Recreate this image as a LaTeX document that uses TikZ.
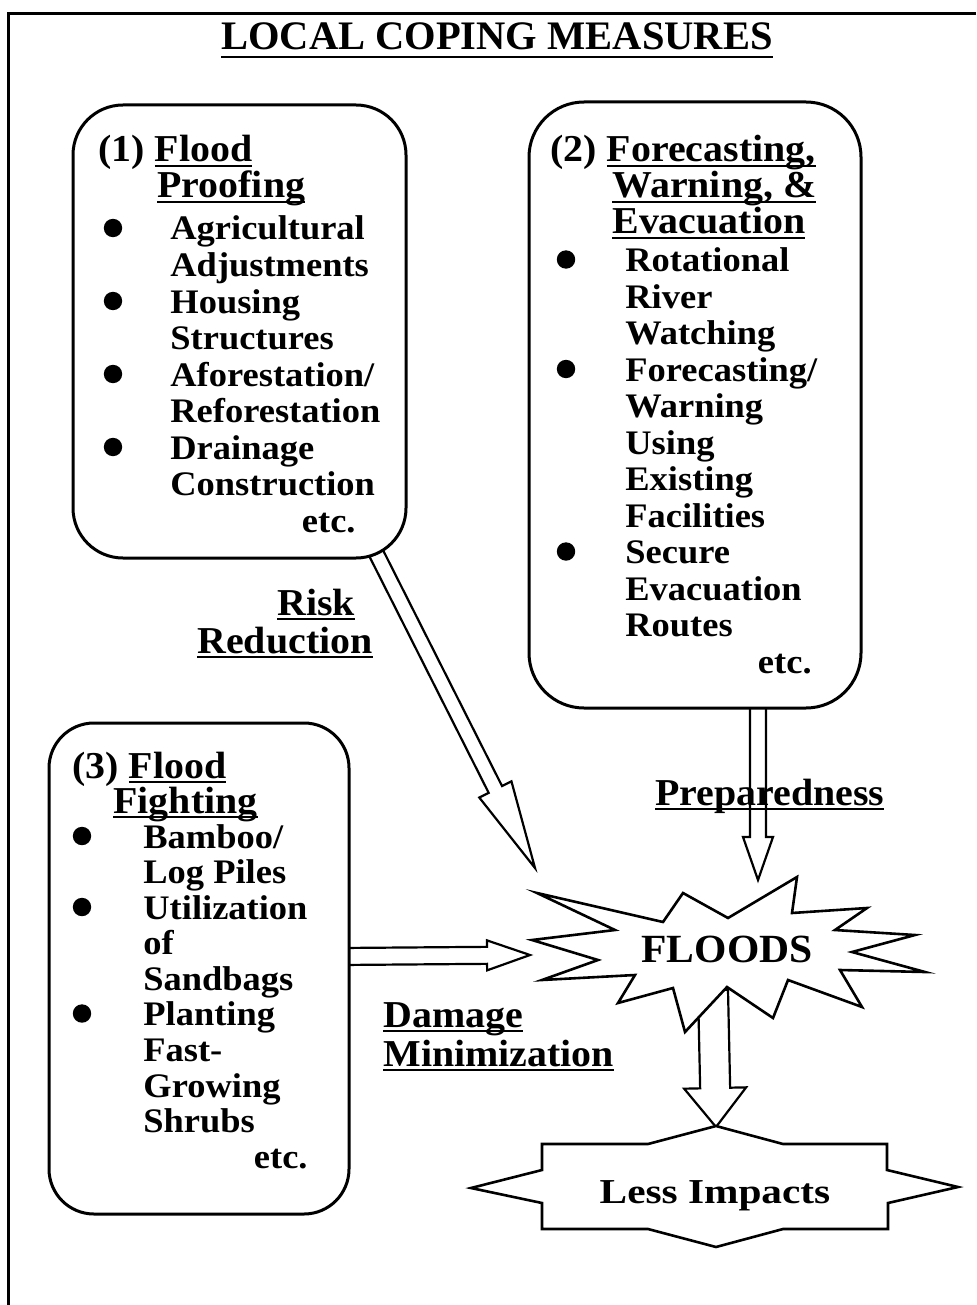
\documentclass[tikz,border=0pt]{standalone}
\usepackage{fontspec}
\setmainfont{Liberation Serif}
\newfontfamily\bodyfam{Liberation Serif}[FakeStretch=1.06]
\newfontfamily\headfam{Liberation Serif}[FakeStretch=1.05]
\newfontfamily\lessfam{Liberation Serif}[FakeStretch=1.18]
\newfontfamily\starfam{Liberation Serif}[FakeStretch=1.04]
\usetikzlibrary{calc}
\pgfdeclarelayer{back}
\pgfsetlayers{back,main}

% underlined word with a rule of fixed weight
\newcommand\undl[2][2.6pt]{\setbox0=\hbox{#2}\rlap{\rule[-#1]{\wd0}{1pt}}\box0}

\newcommand\bodyfont{\bodyfam\bfseries\fontsize{17.2pt}{18pt}\selectfont}
\newcommand\headfont{\headfam\bfseries\fontsize{19pt}{20pt}\selectfont}
\newcommand\titlefont{\bfseries\fontsize{20.25pt}{24pt}\selectfont}
\newcommand\floodfont{\starfam\bfseries\fontsize{20pt}{24pt}\selectfont}
\newcommand\lessfont{\lessfam\bfseries\fontsize{17.5pt}{20pt}\selectfont}

\begin{document}
\begin{tikzpicture}[x=0.5pt,y=-0.5pt,
  panel/.style={draw, line width=1.5pt, fill=white, inner sep=0, outer sep=0},
  txt/.style={anchor=base west, inner sep=0, font=\bodyfont},
  tail/.style={anchor=base east, inner sep=0, font=\bodyfont},
  head/.style={anchor=base west, inner sep=0, font=\headfont},
  dot/.style={fill=black},
  frame/.style={line width=1.5pt},
  outline/.style={draw, line width=1.3pt, fill=white, line join=miter},
  hollow/.style={draw, line width=1.1pt, fill=white, line join=miter},
  % hollow block arrow: shaft half width, head half width, head length
  blockarrow/.style n args={3}{to path={
    ($(\tikztostart)!#1!90:(\tikztotarget)$)
    -- ($(\tikztotarget)!#3!(\tikztostart)!#1!-90:(\tikztostart)$)
    -- ($(\tikztotarget)!#3!(\tikztostart)!#2!-90:(\tikztostart)$)
    -- (\tikztotarget)
    -- ($(\tikztotarget)!#3!(\tikztostart)!#2!90:(\tikztostart)$)
    -- ($(\tikztotarget)!#3!(\tikztostart)!#1!90:(\tikztostart)$)
    -- ($(\tikztostart)!#1!-90:(\tikztotarget)$)
    -- cycle}}
]
\useasboundingbox (0,0) rectangle (976,1305);

% page frame
\draw[frame] (976,14) -- (8,14) -- (8,1305);

% title
\node[anchor=base, inner sep=0, font=\titlefont] (title) at (497,50)
  {\undl[4pt]{LOCAL COPING MEASURES}};

% the three measure panels
\node[panel, minimum width=166.5pt, minimum height=226.5pt, rounded corners=25pt] (box1) at (239.5,331.5) {};
\node[panel, minimum width=166pt, minimum height=303pt, rounded corners=27.5pt] (box2) at (695,405) {};
\node[panel, minimum width=150pt, minimum height=245.5pt, rounded corners=22.5pt] (box3) at (199,968.5) {};

% panel 1
\node[head] (h1a) at (98,162) {(1) \undl{Flood}};
\node[head] (h1b) at (157,198) {\undl{Proofing}};
\node[txt] (p1a) at (170,240)   {Agricultural};
\node[txt] (p1b) at (170,276.5) {Adjustments};
\node[txt] (p1c) at (170,313)   {Housing};
\node[txt] (p1d) at (170,349.5) {Structures};
\node[txt] (p1e) at (170,386)   {Aforestation/};
\node[txt] (p1f) at (170,422.5) {Reforestation};
\node[txt] (p1g) at (170,459)   {Drainage};
\node[txt] (p1h) at (170,495.5) {Construction};
\node[tail] (p1i) at (356,532)  {etc.};
\foreach \yy in {228,301,374,447} \fill[dot] (113,\yy) circle (4.6pt);

% panel 2
\node[head] (h2a) at (550,162) {(2) \undl{Forecasting,}};
\node[head] (h2b) at (612,198) {\undl{Warning, \&}};
\node[head] (h2c) at (612,234) {\undl{Evacuation}};
\node[txt] (p2a) at (625,271.5) {Rotational};
\node[txt] (p2b) at (625,308)   {River};
\node[txt] (p2c) at (625,344.5) {Watching};
\node[txt] (p2d) at (625,381)   {Forecasting/};
\node[txt] (p2e) at (625,417.5) {Warning};
\node[txt] (p2f) at (625,454)   {Using};
\node[txt] (p2g) at (625,490.5) {Existing};
\node[txt] (p2h) at (625,527)   {Facilities};
\node[txt] (p2i) at (625,563.5) {Secure};
\node[txt] (p2j) at (625,600)   {Evacuation};
\node[txt] (p2k) at (625,636.5) {Routes};
\node[tail] (p2l) at (812,673)  {etc.};
\foreach \yy in {259.5,369,551.5} \fill[dot] (566,\yy) circle (4.6pt);

% panel 3
\node[head] (h3a) at (72,778) {(3) \undl{Flood}};
\node[head] (h3b) at (113,813) {\undl{Fighting}};
\node[txt] (p3a) at (143,848)    {Bamboo/};
\node[txt] (p3b) at (143,883.5)  {Log Piles};
\node[txt] (p3c) at (143,919)    {Utilization};
\node[txt] (p3d) at (143,954.5)  {of};
\node[txt] (p3e) at (143,990)    {Sandbags};
\node[txt] (p3f) at (143,1025.5) {Planting};
\node[txt] (p3g) at (143,1061)   {Fast-};
\node[txt] (p3h) at (143,1097)   {Growing};
\node[txt] (p3i) at (143,1132.6) {Shrubs};
\node[tail] (p3j) at (308,1168)  {etc.};
\foreach \yy in {836,907,1013.5} \fill[dot] (82,\yy) circle (4.6pt);

% arrow labels
\node[head] (lr1) at (277,615)  {\undl{Risk}};
\node[head] (lr2) at (197,653)  {\undl{Reduction}};
\node[head] (lp)  at (655,805)  {\undl{Preparedness}};
\node[head] (ld1) at (383,1027) {\undl{Damage}};
\node[head] (ld2) at (383,1066) {\undl{Minimization}};

% FLOODS burst
\coordinate (fc) at (727,948);
\draw[outline, shift={(fc)}]
  (-190,-55) -- (-64,-26) -- (-44,-55) -- (1,-30) -- (70,-71) -- (65,-35)
  -- (140,-40) -- (108,-18) -- (188,-13) -- (125,4) -- (198,24) -- (113,22)
  -- (135,59) -- (61,32) -- (46,70) -- (0,39) -- (-42,84) -- (-54,40)
  -- (-109,55) -- (-92,27) -- (-185,32) -- (-129,12) -- (-195,-8) -- (-112,-18)
  -- cycle;
\node[anchor=base, inner sep=0, font=\floodfont] (floods) at (727,962) {FLOODS};

% Less Impacts sign
\coordinate (lc) at (715,1187);
\draw[outline, shift={(lc)}]
  (1,-61) -- (68,-43) -- (172,-43) -- (172,-17) -- (243,0) -- (173,16)
  -- (173,42) -- (68,42) -- (1,60) -- (-67,42) -- (-173,42) -- (-173,16)
  -- (-244,1) -- (-173,-17) -- (-173,-43) -- (-67,-43) -- cycle;
\node[anchor=base, inner sep=0, font=\lessfont] (less) at (715,1203) {Less Impacts};

% hollow arrows, kept behind the shapes they leave
\begin{pgfonlayer}{back}
  \coordinate (rstart) at (368,537);
  \coordinate (rtip)   at (535,868);
  \coordinate (pstart) at (758,690);
  \coordinate (ptip)   at (758,880);
  \coordinate (dstart) at (340,956.5);
  \coordinate (dtip)   at (530,955);
  \coordinate (lstart) at (713,990);
  \coordinate (ltip)   at (716,1127);
  \draw[hollow, blockarrow={3.75pt}{9pt}{44pt}] (rstart) to (rtip);
  \draw[hollow, blockarrow={4pt}{7.5pt}{21.5pt}] (pstart) to (ptip);
  \draw[hollow, blockarrow={4.25pt}{7.5pt}{21.5pt}] (dstart) to (dtip);
  \draw[hollow, blockarrow={7.5pt}{15.5pt}{19.5pt}] (lstart) to (ltip);
\end{pgfonlayer}
\end{tikzpicture}
\end{document}
